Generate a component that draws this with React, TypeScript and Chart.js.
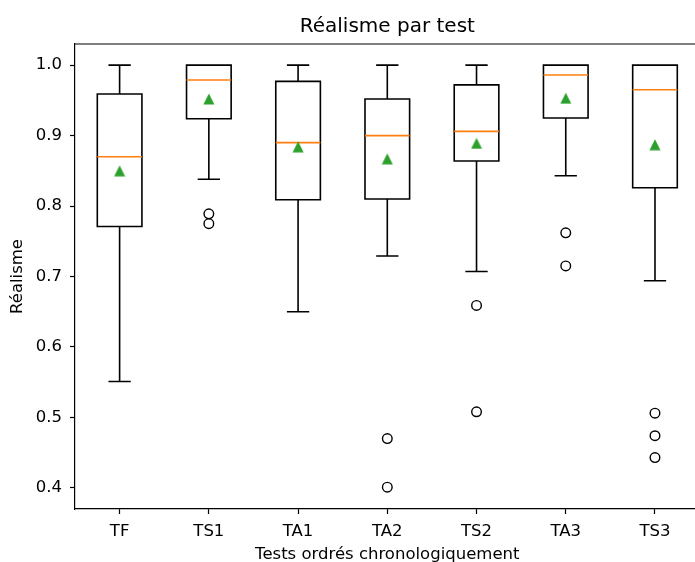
import React, { useEffect, useRef } from 'react';
import { Chart, registerables } from 'chart.js';

Chart.register(...registerables);

const categories = ['TF', 'TS1', 'TA1', 'TA2', 'TS2', 'TA3', 'TS3'];
const whiskerLow = [0.551, 0.838, 0.65, 0.729, 0.707, 0.843, 0.694];
const q1 = [0.771, 0.924, 0.809, 0.81, 0.864, 0.925, 0.826];
const medians = [0.87, 0.979, 0.89, 0.9, 0.906, 0.986, 0.965];
const q3 = [0.959, 1.0, 0.977, 0.952, 0.972, 1.0, 1.0];
const whiskerHigh = [1.0, 1.0, 1.0, 1.0, 1.0, 1.0, 1.0];
const means = [0.85, 0.952, 0.884, 0.867, 0.889, 0.953, 0.887];
const outlierCategories = ['TS1', 'TS1', 'TA2', 'TA2', 'TS2', 'TS2', 'TA3', 'TA3', 'TS3', 'TS3', 'TS3'];
const outlierValues = [0.789, 0.775, 0.47, 0.401, 0.659, 0.508, 0.762, 0.715, 0.506, 0.474, 0.443];
const yTicks = [0.4, 0.5, 0.6, 0.7, 0.8, 0.9, 1.0];

const FONT = "'DejaVu Sans', sans-serif";
const BOX_INDEX = 2;

const boxPlugin = {
  id: 'boxParts',
  afterDatasetDraw(chart: any, args: any) {
    if (args.index !== BOX_INDEX) return;
    const { ctx } = chart;
    const xs = chart.scales.x;
    const ys = chart.scales.y;
    const meta = chart.getDatasetMeta(BOX_INDEX);
    ctx.save();
    ctx.lineWidth = 1.6;
    categories.forEach((_, i) => {
      const bar = meta.data[i];
      const x = xs.getPixelForValue(i);
      const w = bar.width;
      const half = w / 2;
      const cap = w / 4;
      const yq1 = ys.getPixelForValue(q1[i]);
      const yq3 = ys.getPixelForValue(q3[i]);
      const ylo = ys.getPixelForValue(whiskerLow[i]);
      const yhi = ys.getPixelForValue(whiskerHigh[i]);
      const ymed = ys.getPixelForValue(medians[i]);
      ctx.strokeStyle = '#000';
      ctx.beginPath();
      ctx.rect(bar.x - half, Math.min(bar.y, bar.base), w, Math.abs(bar.base - bar.y));
      ctx.moveTo(x, yq3);
      ctx.lineTo(x, yhi);
      ctx.moveTo(x, yq1);
      ctx.lineTo(x, ylo);
      ctx.moveTo(x - cap, yhi);
      ctx.lineTo(x + cap, yhi);
      ctx.moveTo(x - cap, ylo);
      ctx.lineTo(x + cap, ylo);
      ctx.stroke();
      ctx.strokeStyle = '#ff7f0e';
      ctx.beginPath();
      ctx.moveTo(x - half, ymed);
      ctx.lineTo(x + half, ymed);
      ctx.stroke();
    });
    ctx.restore();
  },
  afterDraw(chart: any) {
    const { ctx, chartArea } = chart;
    ctx.save();
    ctx.strokeStyle = '#000';
    ctx.lineWidth = 1.2;
    ctx.beginPath();
    ctx.moveTo(chartArea.left, chartArea.top);
    ctx.lineTo(chartArea.right, chartArea.top);
    ctx.stroke();
    ctx.restore();
  },
};

export default function App() {
  const ref = useRef<HTMLCanvasElement | null>(null);

  useEffect(() => {
    if (!ref.current) return;
    document.documentElement.style.overflow = 'hidden';
    document.body.style.overflow = 'hidden';
    const tri = document.createElement('canvas');
    tri.width = 12;
    tri.height = 12;
    const tc = tri.getContext('2d')!;
    tc.fillStyle = '#2ca02c';
    tc.beginPath();
    tc.moveTo(6, 0.5);
    tc.lineTo(11.5, 11.5);
    tc.lineTo(0.5, 11.5);
    tc.closePath();
    tc.fill();

    const chart = new Chart(ref.current, {
      type: 'bar',
      data: {
        labels: categories,
        datasets: [
          {
            type: 'line',
            data: means,
            showLine: false,
            pointStyle: tri as any,
            pointRadius: 6,
            pointHoverRadius: 6,
          } as any,
          {
            type: 'line',
            data: outlierCategories.map((c, i) => ({ x: c, y: outlierValues[i] })),
            showLine: false,
            pointStyle: 'circle',
            pointRadius: 4.8,
            pointHoverRadius: 4.8,
            pointBorderWidth: 1.4,
            pointBorderColor: '#000',
            pointBackgroundColor: 'rgba(0,0,0,0)',
          } as any,
          {
            type: 'bar',
            data: categories.map((_, i) => [q1[i], q3[i]]),
            backgroundColor: 'rgba(0,0,0,0)',
            borderColor: 'rgba(0,0,0,0)',
            borderWidth: 0,
            barPercentage: 0.5,
            categoryPercentage: 1.0,
          } as any,
        ],
      },
      options: {
        responsive: false,
        animation: false,
        events: [],
        layout: { padding: { left: 0, right: 10.4, top: 0, bottom: 0 } },
        plugins: {
          legend: { display: false },
          tooltip: { enabled: false },
          title: {
            display: true,
            text: 'Réalisme par test',
            fullSize: false,
            color: '#000',
            font: { family: FONT, size: 20, weight: 'normal' },
            padding: { top: 15, bottom: 5 },
          },
        },
        scales: {
          x: {
            type: 'category',
            offset: true,
            grid: {
              display: true,
              offset: false,
              drawOnChartArea: false,
              drawTicks: true,
              tickLength: 5,
              tickWidth: 1.2,
              tickColor: '#000',
            },
            border: { display: true, color: '#000', width: 1.2 },
            ticks: {
              color: '#000',
              padding: 8,
              font: { family: FONT, size: 16.5 },
              maxRotation: 0,
              autoSkip: false,
            },
            title: {
              display: true,
              text: 'Tests ordrés chronologiquement',
              color: '#000',
              font: { family: FONT, size: 16.5 },
              padding: { top: 0, bottom: 0 },
            },
            afterFit: (s: any) => {
              s.height = 56;
            },
          },
          y: {
            type: 'linear',
            min: 0.37,
            max: 1.03,
            grid: {
              display: true,
              drawOnChartArea: false,
              drawTicks: true,
              tickLength: 5,
              tickWidth: 1.2,
              tickColor: '#000',
            },
            border: { display: true, color: '#000', width: 1.2 },
            afterBuildTicks: (s: any) => {
              s.ticks = yTicks.map((v) => ({ value: v }));
            },
            ticks: {
              color: '#000',
              padding: 8,
              font: { family: FONT, size: 16.5 },
              callback: (v: any) => Number(v).toFixed(1),
            },
            title: {
              display: true,
              text: 'Réalisme',
              color: '#000',
              font: { family: FONT, size: 16.5 },
              padding: { top: 8, bottom: 0 },
            },
            afterFit: (s: any) => {
              s.width = 75;
            },
          },
        },
      },
      plugins: [boxPlugin],
    });
    return () => chart.destroy();
  }, []);

  return (
    <canvas
      ref={ref}
      width={710}
      height={565}
      style={{ position: 'fixed', left: 0, top: 0, background: '#fff' }}
    />
  );
}
